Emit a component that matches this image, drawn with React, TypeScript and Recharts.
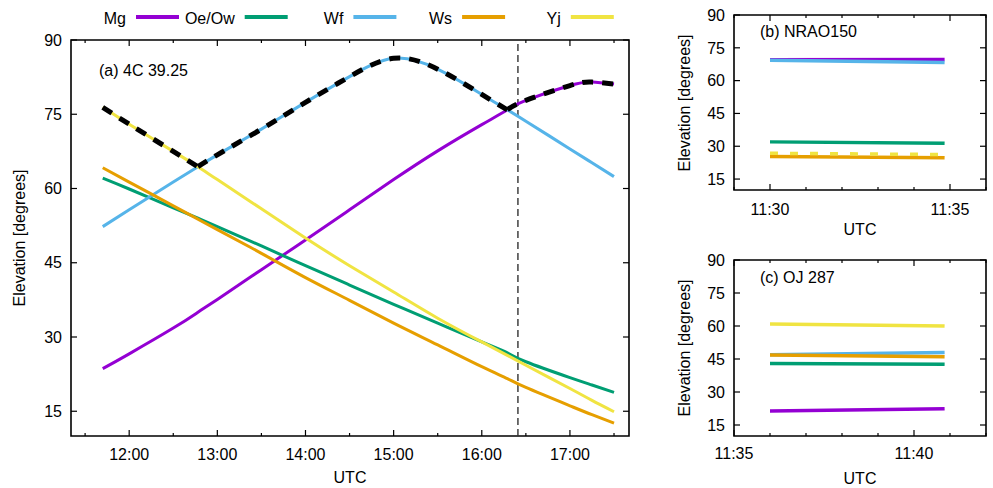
import React from "react";
import { LineChart, Line, XAxis, YAxis, ReferenceLine, ReferenceArea } from "recharts";

const FONT = "'Liberation Sans', Arial, sans-serif";

// series order = legend order = draw order
const SERIES = [
  { key: "mg", name: "Mg", color: "#9400d3" },
  { key: "oe", name: "Oe/Ow", color: "#009e73" },
  { key: "wf", name: "Wf", color: "#56b4e9" },
  { key: "ws", name: "Ws", color: "#e69f00" },
  { key: "yj", name: "Yj", color: "#f0e442" },
];

const Y_TICKS = [15, 30, 45, 60, 75, 90];

// (a) 4C 39.25 — time in decimal hours UTC
const timesA = [11.7, 12, 12.5, 12.78, 13, 13.5, 14, 14.5, 15, 15.5, 16, 16.29, 16.5, 17, 17.25, 17.5];
const mgA = [23.6, 26.6, 31.8, 35.0, 37.6, 43.6, 49.6, 55.7, 61.8, 67.6, 72.9, 75.9, 77.8, 80.8, 81.5, 81.1];
const oeA = [62.1, 59.9, 56.1, 54.0, 52.3, 48.4, 44.4, 40.5, 36.6, 32.8, 29.0, 26.8, 25.0, 21.8, 20.3, 18.8];
const wfA = [52.3, 55.7, 61.3, 64.4, 66.8, 72.0, 77.4, 82.6, 86.3, 84.1, 79.0, 75.9, 73.6, 68.0, 65.2, 62.4];
const wsA = [64.2, 61.3, 56.5, 53.8, 51.7, 46.9, 42.0, 37.4, 32.8, 28.4, 24.0, 21.6, 19.8, 16.1, 14.3, 12.6];
const yjA = [76.4, 73.0, 67.5, 64.4, 61.8, 55.9, 50.0, 44.4, 39.1, 33.8, 29.0, 26.3, 24.3, 19.6, 17.2, 14.9];
const ticksA = [11.5, 12, 12.5, 13, 13.5, 14, 14.5, 15, 15.5, 16, 16.5, 17, 17.5];
const markerA = 16.41;

// (b) NRAO150 — minutes since 00:00 UTC
const timesB = [690, 694.85];
const mgB = [69.5, 69.7];
const oeB = [32.0, 31.4];
const wfB = [69.3, 68.3];
const wsB = [25.3, 24.7];
const yjB = [26.8, 26.2];
const ticksB = [689, 690, 691, 692, 693, 694, 695, 696];

// (c) OJ 287
const timesC = [696, 700.85];
const mgC = [21.4, 22.4];
const oeC = [43.0, 42.6];
const wfC = [46.9, 47.9];
const wsC = [46.8, 46.0];
const yjC = [60.9, 60.0];
const ticksC = [695, 696, 697, 698, 699, 700, 701, 702];

function rowsOf(times: number[], mg: number[], oe: number[], wf: number[], ws: number[], yj: number[]) {
  return times.map((t, i) => {
    const r: Record<string, number | null> = { t, mg: mg[i], oe: oe[i], wf: wf[i], ws: ws[i], yj: yj[i] };
    // black dashed envelope: each source only where it is the highest one
    const best = Math.max(mg[i], oe[i], wf[i], ws[i], yj[i]);
    for (const s of SERIES) {
      const v = r[s.key] as number;
      r[`top_${s.key}`] = v >= best - 1e-9 ? v : null;
    }
    return r;
  });
}

const rowsA = rowsOf(timesA, mgA, oeA, wfA, wsA, yjA);
const rowsB = rowsOf(timesB, mgB, oeB, wfB, wsB, yjB);
const rowsC = rowsOf(timesC, mgC, oeC, wfC, wsC, yjC);

const fmtHour = (v: number) => `${v}:00`;
const fmtMin = (v: number) => `${Math.floor(v / 60)}:${String(v % 60).padStart(2, "0")}`;

type Plot = { l: number; r: number; t: number; b: number };

function xTick(plot: Plot, isMajor: (v: number) => boolean, fmt: (v: number) => string, dy: number) {
  return (props: any) => {
    const { x, payload } = props;
    const major = isMajor(payload.value);
    const len = major ? 6 : 3;
    return (
      <g>
        <line x1={x} x2={x} y1={plot.b} y2={plot.b - len} stroke="#000" strokeWidth={1.2} />
        <line x1={x} x2={x} y1={plot.t} y2={plot.t + len} stroke="#000" strokeWidth={1.2} />
        {major && (
          <text x={x} y={plot.b + dy} textAnchor="middle" fontSize={16} fontFamily={FONT} fill="#000">
            {fmt(payload.value)}
          </text>
        )}
      </g>
    );
  };
}

function yTick(plot: Plot) {
  return (props: any) => {
    const { y, payload } = props;
    return (
      <g>
        <line x1={plot.l} x2={plot.l + 6} y1={y} y2={y} stroke="#000" strokeWidth={1.2} />
        <line x1={plot.r} x2={plot.r - 6} y1={y} y2={y} stroke="#000" strokeWidth={1.2} />
        <text x={plot.l - 9} y={y + 5.7} textAnchor="end" fontSize={16} fontFamily={FONT} fill="#000">
          {payload.value}
        </text>
      </g>
    );
  };
}

function Panel({
  left,
  top,
  width,
  height,
  plot,
  rows,
  xDomain,
  xTicks,
  isMajor,
  fmtX,
  dy,
  lineWidth,
  curve,
  dashedYj,
  envelope,
  marker,
}: {
  left: number;
  top: number;
  width: number;
  height: number;
  plot: Plot;
  rows: any[];
  xDomain: [number, number];
  xTicks: number[];
  isMajor: (v: number) => boolean;
  fmtX: (v: number) => string;
  dy: number;
  lineWidth: number;
  curve: "natural" | "linear";
  dashedYj?: boolean;
  envelope?: boolean;
  marker?: number;
}) {
  return (
    <div style={{ position: "absolute", left, top }}>
      <LineChart
        width={width}
        height={height}
        data={rows}
        margin={{ top: plot.t, right: width - plot.r, bottom: 0, left: 0 }}
      >
        <XAxis
          dataKey="t"
          type="number"
          domain={xDomain}
          ticks={xTicks}
          interval={0}
          allowDataOverflow
          height={height - plot.b}
          axisLine={false}
          tickLine={false}
          tickSize={0}
          tickMargin={0}
          tick={xTick(plot, isMajor, fmtX, dy)}
        />
        <YAxis
          type="number"
          domain={[10, 90]}
          ticks={Y_TICKS}
          interval={0}
          allowDataOverflow
          width={plot.l}
          axisLine={false}
          tickLine={false}
          tickSize={0}
          tickMargin={0}
          tick={yTick(plot)}
        />
        {marker !== undefined && (
          <ReferenceLine x={marker} stroke="#333" strokeWidth={1.4} strokeDasharray="7 4" />
        )}
        {SERIES.map((s) => (
          <Line
            key={s.key}
            dataKey={s.key}
            type={curve}
            stroke={s.color}
            strokeWidth={lineWidth}
            strokeDasharray={dashedYj && s.key === "yj" ? "8 12" : undefined}
            dot={false}
            activeDot={false}
            isAnimationActive={false}
          />
        ))}
        {envelope &&
          SERIES.map((s) => (
            <Line
              key={`top_${s.key}`}
              dataKey={`top_${s.key}`}
              type={curve}
              stroke="#000"
              strokeWidth={5}
              strokeDasharray="11 9"
              connectNulls={false}
              dot={false}
              activeDot={false}
              isAnimationActive={false}
            />
          ))}
        <ReferenceArea
          x1={xDomain[0]}
          x2={xDomain[1]}
          y1={10}
          y2={90}
          fill="none"
          fillOpacity={0}
          stroke="#000"
          strokeWidth={1.6}
        />
      </LineChart>
    </div>
  );
}

function Overlay() {
  const txt = { fontSize: 16, fontFamily: FONT, fill: "#000" } as const;
  return (
    <svg
      width={993}
      height={488}
      style={{ position: "absolute", left: 0, top: 0, pointerEvents: "none" }}
    >
      {SERIES.map((s, i) => {
        const x0 = 136 + i * 108.7;
        return (
          <g key={s.key}>
            <text x={x0 - 10} y={24} textAnchor="end" {...txt}>
              {s.name}
            </text>
            <line x1={x0} x2={x0 + 43} y1={17} y2={17} stroke={s.color} strokeWidth={4} />
          </g>
        );
      })}
      <text x={99} y={76} {...txt}>(a) 4C 39.25</text>
      <text x={760} y={37} {...txt}>(b) NRAO150</text>
      <text x={760} y={283} {...txt}>(c) OJ 287</text>
      <text x={350} y={483} textAnchor="middle" {...txt}>UTC</text>
      <text x={860} y={235} textAnchor="middle" {...txt}>UTC</text>
      <text x={860} y={484} textAnchor="middle" {...txt}>UTC</text>
      <text transform="translate(25 238) rotate(-90)" textAnchor="middle" {...txt}>
        Elevation [degrees]
      </text>
      <text transform="translate(690 103) rotate(-90)" textAnchor="middle" {...txt}>
        Elevation [degrees]
      </text>
      <text transform="translate(690 348) rotate(-90)" textAnchor="middle" {...txt}>
        Elevation [degrees]
      </text>
    </svg>
  );
}

export default function App() {
  return (
    <div
      style={{
        position: "absolute",
        left: 0,
        top: 0,
        width: 993,
        height: 488,
        background: "#fff",
        fontFamily: FONT,
        overflow: "hidden",
      }}
    >
      <Panel
        left={0}
        top={0}
        width={660}
        height={488}
        plot={{ l: 71, r: 629, t: 40, b: 436 }}
        rows={rowsA}
        xDomain={[11.34, 17.67]}
        xTicks={ticksA}
        isMajor={(v) => Number.isInteger(v)}
        fmtX={fmtHour}
        dy={24}
        lineWidth={3}
        curve="natural"
        envelope
        marker={markerA}
      />
      <Panel
        left={660}
        top={0}
        width={333}
        height={245}
        plot={{ l: 74, r: 326, t: 15, b: 190 }}
        rows={rowsB}
        xDomain={[689, 696]}
        xTicks={ticksB}
        isMajor={(v) => v % 5 === 0}
        fmtX={fmtMin}
        dy={25}
        lineWidth={3.5}
        curve="linear"
        dashedYj
      />
      <Panel
        left={660}
        top={245}
        width={333}
        height={243}
        plot={{ l: 74, r: 326, t: 15, b: 191 }}
        rows={rowsC}
        xDomain={[695, 702]}
        xTicks={ticksC}
        isMajor={(v) => v % 5 === 0}
        fmtX={fmtMin}
        dy={23}
        lineWidth={3.5}
        curve="linear"
      />
      <Overlay />
    </div>
  );
}
